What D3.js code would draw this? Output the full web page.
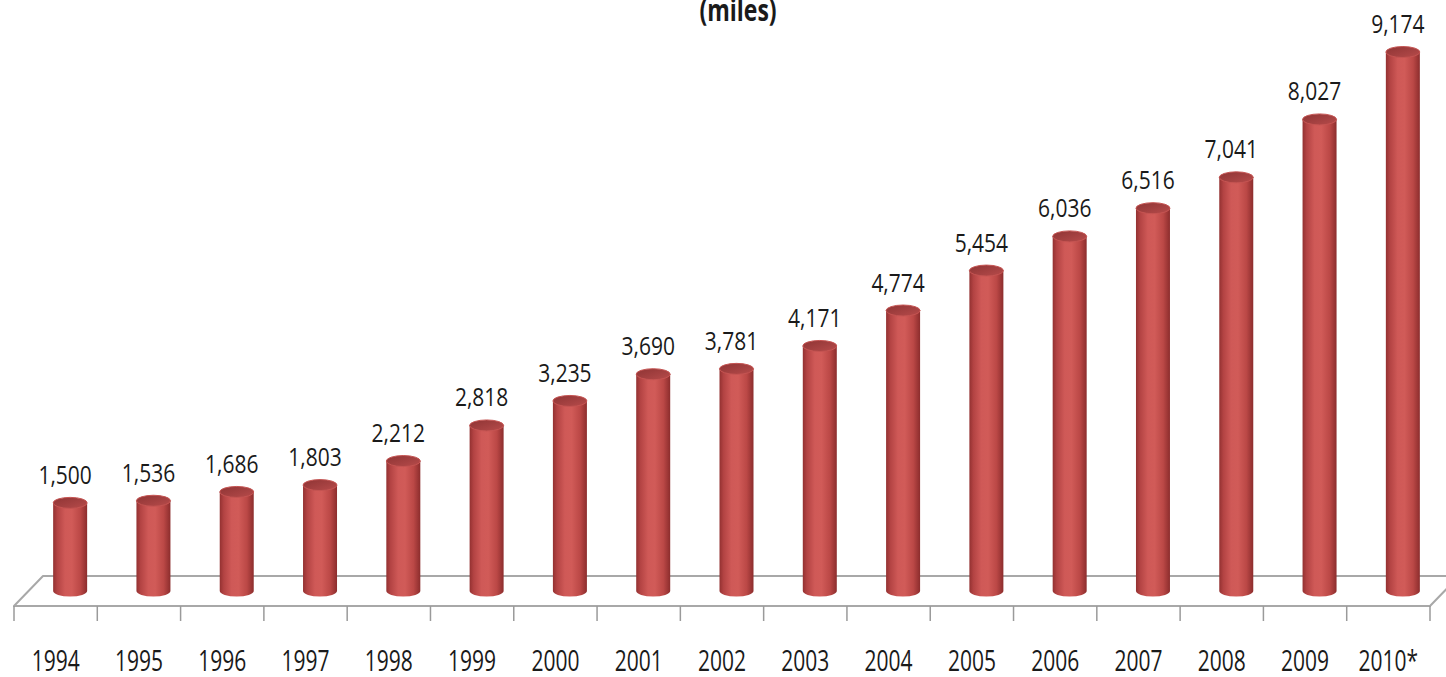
<!DOCTYPE html>
<html>
<head>
<meta charset="utf-8">
<script src="https://cdn.jsdelivr.net/npm/d3@7"></script>
<style>
  html, body { margin: 0; padding: 0; background: #ffffff; }
  svg { display: block; }
  text { font-family: "Open Sans", "Noto Sans", sans-serif; fill: #1a1a1a; }
</style>
</head>
<body>
<svg id="chart" width="1446" height="677"></svg>
<script>
// Network length by year (miles)
const years = ["1994", "1995", "1996", "1997", "1998", "1999", "2000", "2001", "2002",
               "2003", "2004", "2005", "2006", "2007", "2008", "2009", "2010*"];
const miles = [1500, 1536, 1686, 1803, 2212, 2818, 3235, 3690, 3781,
               4171, 4774, 5454, 6036, 6516, 7041, 8027, 9174];
const title = "(miles)";

const svg = d3.select("#chart");

// Floor geometry: front edge plus an oblique depth offset
const frontY = 606;
const depthX = 29, depthY = -30;
const x = d3.scaleBand().domain(years).range([14, 1430]).padding(0);
const baseY = frontY + depthY / 2;
const y = d3.scaleLinear().domain([0, 10000]).range([baseY, 3.5]);
const fmt = d3.format(",");

const defs = svg.append("defs");
const bodyGrad = defs.append("linearGradient").attr("id", "cylBody")
  .attr("x1", "0%").attr("x2", "100%").attr("y1", "0%").attr("y2", "0%");
[[0, "#933131"], [0.12, "#b34343"], [0.35, "#cf5957"], [0.55, "#d15b58"],
 [0.8, "#bb4846"], [1, "#8c2d2d"]]
  .forEach(([o, c]) => bodyGrad.append("stop").attr("offset", o).attr("stop-color", c));
const capGrad = defs.append("linearGradient").attr("id", "cylTop")
  .attr("x1", "0%").attr("x2", "100%").attr("y1", "0%").attr("y2", "100%");
[[0, "#8f3434"], [0.6, "#a64242"], [1, "#b84b4a"]]
  .forEach(([o, c]) => capGrad.append("stop").attr("offset", o).attr("stop-color", c));

// Floor
const x0 = x.range()[0], x1 = x.range()[1];
svg.append("path")
  .attr("d", `M${x0},${frontY} L${x1},${frontY} L${x1 + depthX},${frontY + depthY} L${x0 + depthX},${frontY + depthY} Z`)
  .attr("fill", "#ffffff")
  .attr("stroke", "#a8a8a8")
  .attr("stroke-width", 2)
  .attr("stroke-linejoin", "round");

// Category ticks along the front edge
const bounds = years.map(d => x(d)).concat([x1]);
svg.append("g").selectAll("line").data(bounds).join("line")
  .attr("x1", d => d).attr("x2", d => d)
  .attr("y1", frontY).attr("y2", frontY + 15)
  .attr("stroke", "#9a9a9a").attr("stroke-width", 1.5);

// Cylinders
const r = 17, ry = 5.5;
const cx = d => x(d) + x.bandwidth() / 2 + depthX / 2;
const data = years.map((yr, i) => ({ yr, v: miles[i] }));

const cyl = svg.append("g").selectAll("g").data(data).join("g");
cyl.append("path")
  .attr("d", d => {
    const c = cx(d.yr), t = y(d.v);
    return `M${c - r},${t} L${c - r},${baseY} A${r},${ry} 0 0 0 ${c + r},${baseY} L${c + r},${t} Z`;
  })
  .attr("fill", "url(#cylBody)");
cyl.append("ellipse")
  .attr("cx", d => cx(d.yr)).attr("cy", d => y(d.v))
  .attr("rx", r).attr("ry", ry)
  .attr("fill", "url(#cylTop)")
  .attr("stroke", "#c55452").attr("stroke-width", 1);

// Value labels
svg.append("g").selectAll("text").data(data).join("text")
  .attr("transform", d => `translate(${cx(d.yr) - 5},${y(d.v) - 19}) scale(1,1.22)`)
  .attr("text-anchor", "middle")
  .attr("font-size", 21)
  .text(d => fmt(d.v));

// Year labels
svg.append("g").selectAll("text").data(years).join("text")
  .attr("transform", d => `translate(${x(d) + x.bandwidth() / 2},${671}) scale(1,1.4)`)
  .attr("text-anchor", "middle")
  .attr("font-size", 21)
  .text(d => d);

// Title (unit line)
svg.append("text")
  .attr("transform", `translate(738,21) scale(1,1.3)`)
  .attr("text-anchor", "middle")
  .attr("font-size", 23)
  .attr("font-weight", "bold")
  .text(title);
</script>
</body>
</html>
